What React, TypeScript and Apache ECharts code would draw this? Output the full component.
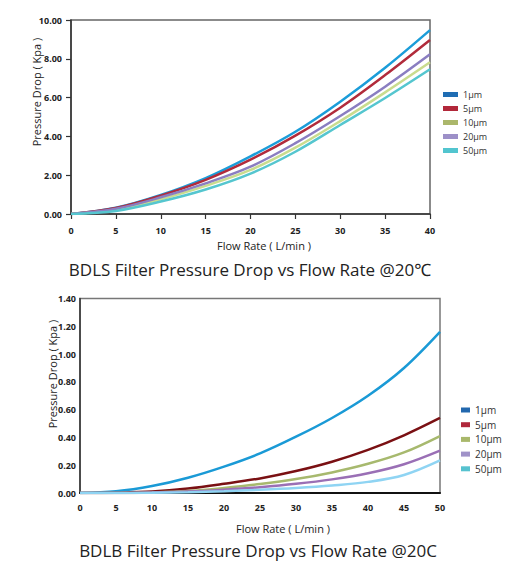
import { useEffect, useRef } from 'react';
import * as echarts from 'echarts';

const sizes = ['1µm', '5µm', '10µm', '20µm', '50µm'];

// BDLS (top chart)
const flowLS = [0, 5, 10, 15, 20, 25, 30, 35, 40];
const ls1 = [0, 0.32, 0.98, 1.85, 2.97, 4.24, 5.79, 7.54, 9.48];
const ls5 = [0, 0.31, 0.95, 1.76, 2.8, 4.04, 5.48, 7.16, 8.97];
const ls10 = [0, 0.22, 0.76, 1.45, 2.27, 3.42, 4.79, 6.27, 7.82];
const ls20 = [0, 0.27, 0.86, 1.58, 2.44, 3.65, 5.05, 6.56, 8.23];
const ls50 = [0, 0.16, 0.64, 1.26, 2.08, 3.21, 4.59, 5.98, 7.46];
const lsLine = ['#1b9dd9', '#b12b3b', '#c9dc8e', '#8a7ec1', '#55c6cf'];
const lsKey = ['#1f6db3', '#b2283a', '#abb76b', '#9d90c8', '#52c5cf'];

// BDLB (bottom chart)
const flowLB = [0, 5, 10, 15, 20, 25, 30, 35, 40, 45, 50];
const lb1 = [0, 0.012, 0.05, 0.11, 0.19, 0.285, 0.405, 0.54, 0.7, 0.9, 1.16];
const lb5 = [0, 0.002, 0.01, 0.032, 0.066, 0.105, 0.158, 0.225, 0.31, 0.415, 0.54];
const lb10 = [0, 0, 0.004, 0.014, 0.036, 0.064, 0.1, 0.148, 0.21, 0.292, 0.41];
const lb20 = [0, 0, 0.003, 0.01, 0.024, 0.042, 0.066, 0.098, 0.142, 0.207, 0.305];
const lb50 = [0, 0, 0.002, 0.006, 0.013, 0.023, 0.036, 0.054, 0.08, 0.13, 0.235];
const lbLine = ['#1a9ad6', '#7a1013', '#a7b96e', '#9a6fb5', '#8fd4f3'];
const lbKey = ['#2268ae', '#b0283c', '#a9b86b', '#a092c8', '#56c2cf'];

const FONT = '"Open Sans", "Noto Sans", sans-serif';

function lines(xs: number[], ys: number[][], colors: string[]) {
  return ys.map((vals, i) => ({
    name: sizes[i],
    type: 'line',
    smooth: 0.35,
    showSymbol: false,
    lineStyle: { color: colors[i], width: 2.5 },
    itemStyle: { color: colors[i] },
    data: vals.map((v, j) => [xs[j], v]),
  }));
}

function Chart({ option, top }: { option: any; top: number }) {
  const el = useRef<HTMLDivElement>(null);
  useEffect(() => {
    if (!el.current) return;
    const chart = echarts.init(el.current, undefined, { renderer: 'svg' });
    chart.setOption(option);
    return () => chart.dispose();
  }, [option]);
  return <div ref={el} style={{ position: 'absolute', left: 0, top, width: 506, height: 285 }} />;
}

const topOption = {
  animation: false,
  textStyle: { fontFamily: FONT },
  grid: {
    left: 71, right: 76, top: 20, bottom: 71,
    show: true, borderColor: '#666', borderWidth: 1.5, backgroundColor: '#fff',
  },
  xAxis: {
    type: 'value', min: 0, max: 40, interval: 5,
    axisLine: { lineStyle: { color: '#333', width: 1.5 } },
    axisTick: { show: true, length: 5, lineStyle: { color: '#333', width: 1.2 } },
    axisLabel: { color: '#222', fontSize: 9, fontWeight: 'bold', margin: 12, fontFamily: FONT },
    splitLine: { show: false },
  },
  yAxis: {
    type: 'value', min: 0, max: 10, interval: 2,
    axisLine: { show: true, lineStyle: { color: '#333', width: 1.5 } },
    axisTick: { show: true, length: 5, lineStyle: { color: '#333', width: 1.2 } },
    axisLabel: { color: '#222', fontSize: 9, fontWeight: 'bold', margin: 9, fontFamily: FONT,
      formatter: (v: number) => v.toFixed(2) },
    splitLine: { show: false },
  },
  legend: {
    orient: 'vertical', left: 438, top: 85, icon: 'rect',
    itemWidth: 15, itemHeight: 5, itemGap: 5,
    textStyle: { fontSize: 9, color: '#333', fontFamily: FONT },
    data: sizes.map((n, i) => ({ name: n, itemStyle: { color: lsKey[i] } })),
  },
  graphic: [
    { type: 'text', x: 264, y: 245, style: { text: 'Flow Rate ( L/min )', fontSize: 11, fill: '#222', fontFamily: FONT, align: 'center', verticalAlign: 'middle' } },
    { type: 'text', x: 36, y: 92, rotation: Math.PI / 2, style: { text: 'Pressure Drop ( Kpa )', fontSize: 11, fill: '#222', fontFamily: FONT, align: 'center', verticalAlign: 'middle' } },
    { type: 'text', x: 250, y: 269, style: { text: 'BDLS Filter Pressure Drop vs Flow Rate @20℃', fontSize: 17, fill: '#222', fontFamily: FONT, align: 'center', verticalAlign: 'middle' } },
  ],
  series: lines(flowLS, [ls1, ls5, ls10, ls20, ls50], lsLine),
};

const bottomOption = {
  animation: false,
  textStyle: { fontFamily: FONT },
  grid: {
    left: 80, right: 66, top: 13.5, bottom: 77,
    show: true, borderColor: '#777', borderWidth: 1.5, backgroundColor: '#fff',
  },
  xAxis: {
    type: 'value', min: 0, max: 50, interval: 5,
    axisLine: { lineStyle: { color: '#111', width: 2 } },
    axisTick: { show: false },
    axisLabel: { color: '#222', fontSize: 9, fontWeight: 'bold', margin: 10, fontFamily: FONT },
    splitLine: { show: false },
  },
  yAxis: {
    type: 'value', min: 0, max: 1.4, interval: 0.2,
    axisLine: { show: true, lineStyle: { color: '#333', width: 1.5 } },
    axisTick: { show: false },
    axisLabel: { color: '#222', fontSize: 9, fontWeight: 'bold', margin: 4, fontFamily: FONT,
      formatter: (v: number) => v.toFixed(2) },
    splitLine: { show: false },
  },
  legend: {
    orient: 'vertical', left: 456, top: 115, icon: 'rect',
    itemWidth: 9, itemHeight: 5, itemGap: 4.7,
    textStyle: { fontSize: 10, color: '#333', fontFamily: FONT },
    data: sizes.map((n, i) => ({ name: n, itemStyle: { color: lbKey[i] } })),
  },
  graphic: [
    { type: 'text', x: 283, y: 243, style: { text: 'Flow Rate ( L/min )', fontSize: 11, fill: '#222', fontFamily: FONT, align: 'center', verticalAlign: 'middle' } },
    { type: 'text', x: 52, y: 89, rotation: Math.PI / 2, style: { text: 'Pressure Drop ( Kpa )', fontSize: 11, fill: '#222', fontFamily: FONT, align: 'center', verticalAlign: 'middle' } },
    { type: 'text', x: 258, y: 265, style: { text: 'BDLB Filter Pressure Drop vs Flow Rate @20C', fontSize: 17, fill: '#222', fontFamily: FONT, align: 'center', verticalAlign: 'middle' } },
  ],
  series: lines(flowLB, [lb1, lb5, lb10, lb20, lb50], lbLine),
};

export default function App() {
  return (
    <div style={{ position: 'absolute', left: 0, top: 0, width: 506, height: 570, background: '#fff' }}>
      <Chart option={topOption} top={0} />
      <Chart option={bottomOption} top={285} />
    </div>
  );
}
